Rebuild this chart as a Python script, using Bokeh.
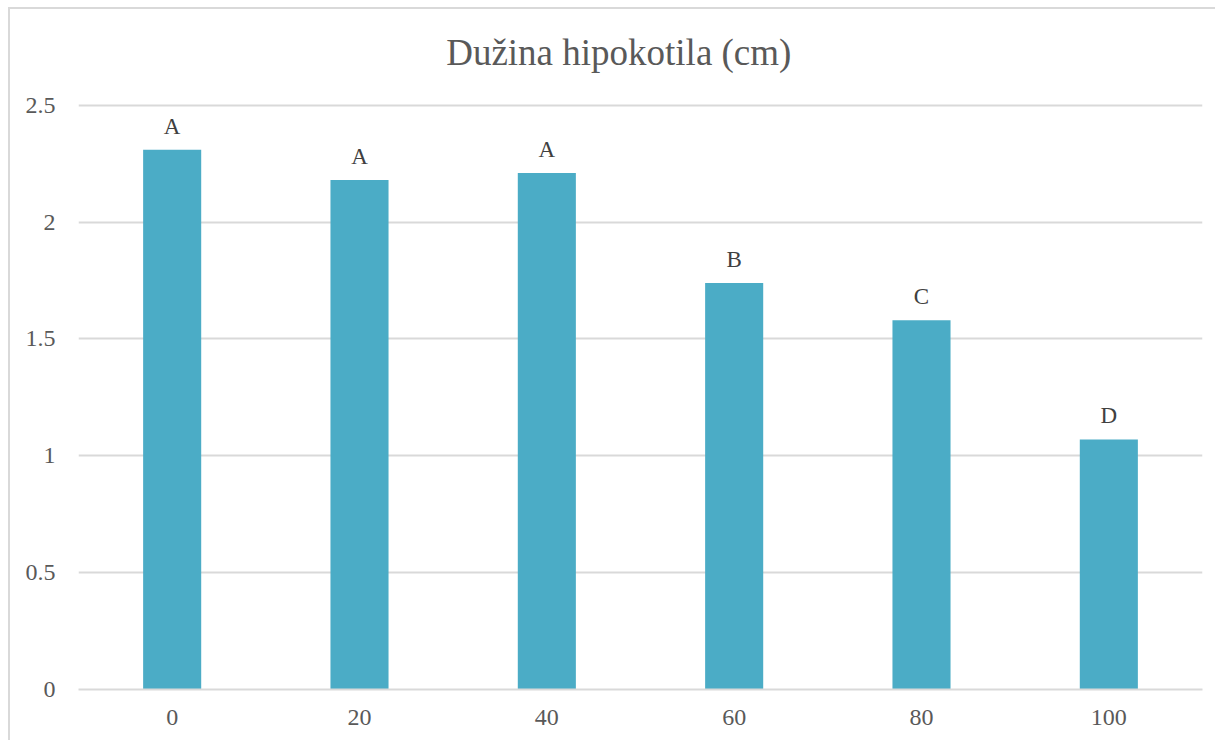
from bokeh.plotting import figure
from bokeh.models import ColumnDataSource, LabelSet, FixedTicker
from bokeh.core.properties import value
from bokeh.embed import file_html
from bokeh.resources import INLINE

categories = ["0", "20", "40", "60", "80", "100"]
values = [2.31, 2.18, 2.21, 1.74, 1.58, 1.07]
letters = ["A", "A", "A", "B", "C", "D"]
y_ticks = [0, 0.5, 1, 1.5, 2, 2.5]
title_text = "Dužina hipokotila (cm)"

FONT = "Liberation Serif"
TXT = "#595959"

src = ColumnDataSource(dict(cat=categories, val=values, lab=letters))

p = figure(x_range=categories, y_range=(0, 2.88), width=1207, height=733,
           output_backend="svg", toolbar_location=None,
           min_border_left=68, min_border_right=15, min_border_top=7, min_border_bottom=53)
p.styles = {"border-left": "2px solid #d9d9d9", "border-top": "2px solid #d9d9d9",
            "margin-left": "8px", "margin-top": "7px"}

p.vbar(x="cat", top="val", width=0.31, source=src, color="#4BACC6", line_color=None)

labels = LabelSet(x="cat", y="val", text="lab", source=src, text_align="center",
                  text_baseline="alphabetic", y_offset=16, text_font=FONT,
                  text_font_size="23px", text_color="#404040")
p.add_layout(labels)

# chart title, placed above the top gridline
p.text(x=[categories[0]], y=[y_ticks[-1]], text=[title_text], x_offset=274, y_offset=-53,
       text_align="left", text_baseline="alphabetic", text_font=value(FONT),
       text_font_size="37px", text_color=TXT)

p.outline_line_color = None
p.xgrid.grid_line_color = None
p.ygrid.grid_line_color = "#d9d9d9"
p.ygrid.grid_line_width = 2

p.yaxis.ticker = FixedTicker(ticks=y_ticks)
p.yaxis.axis_line_color = None
p.yaxis.major_tick_line_color = None
p.yaxis.minor_tick_line_color = None
p.yaxis.major_label_text_font = FONT
p.yaxis.major_label_text_font_size = "24px"
p.yaxis.major_label_text_color = TXT
p.yaxis.major_label_standoff = 17

p.xaxis.axis_line_color = "#d9d9d9"
p.xaxis.axis_line_width = 2
p.xaxis.major_tick_line_color = None
p.xaxis.minor_tick_line_color = None
p.xaxis.major_label_text_font = FONT
p.xaxis.major_label_text_font_size = "24px"
p.xaxis.major_label_text_color = TXT
p.xaxis.major_label_standoff = 14

p.x_range.range_padding = 0

open("out.html", "w").write(file_html(p, INLINE))
